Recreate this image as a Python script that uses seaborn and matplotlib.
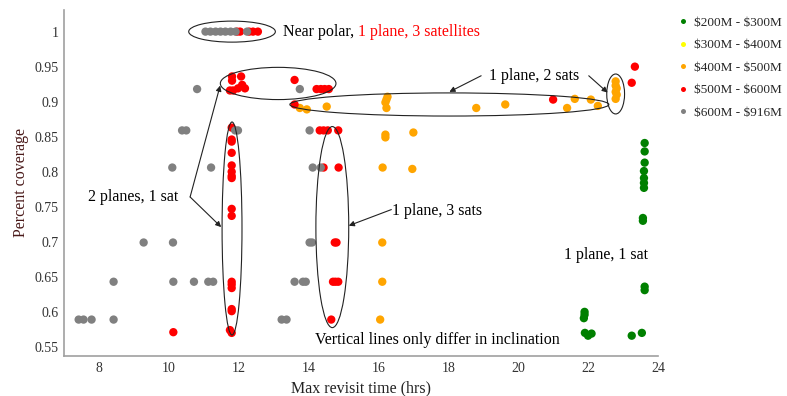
import numpy as np
import pandas as pd
import matplotlib
matplotlib.use("Agg")
import matplotlib.pyplot as plt
from matplotlib.patches import Ellipse
from matplotlib.ticker import FuncFormatter
import seaborn as sns

# Cost tiers (dollar signs escaped so matplotlib does not read them as mathtext)
tiers = [r"\$200M - \$300M", r"\$300M - \$400M", r"\$400M - \$500M",
         r"\$500M - \$600M", r"\$600M - \$916M"]
tier_colors = ["green", "yellow", "orange", "red", "gray"]

# $200M - $300M
t200_x = [23.62, 23.62, 23.62, 23.60, 23.60, 23.60, 23.60, 23.57, 23.57, 23.62, 23.62,
          21.90, 21.90, 21.88, 21.91, 22.00, 22.10, 23.25, 23.54]
t200_y = [0.841, 0.829, 0.813, 0.801, 0.791, 0.784, 0.777, 0.734, 0.730, 0.636, 0.631,
          0.600, 0.596, 0.591, 0.570, 0.566, 0.569, 0.566, 0.570]

# $300M - $400M (no designs in this range)
t300_x = []
t300_y = []

# $400M - $500M
t400_x = [13.75, 13.95, 14.52, 16.26, 16.23, 16.20, 16.23, 18.80, 19.63, 21.40, 21.62,
          22.08, 22.28, 22.79, 22.79, 22.82, 22.79, 22.82, 22.79,
          16.20, 16.20, 17.00, 16.12, 16.97, 16.11, 16.11, 16.05]
t400_y = [0.891, 0.889, 0.893, 0.907, 0.903, 0.899, 0.891, 0.891, 0.896, 0.891, 0.904,
          0.903, 0.894, 0.929, 0.923, 0.919, 0.914, 0.910, 0.904,
          0.853, 0.849, 0.856, 0.806, 0.804, 0.699, 0.643, 0.589]

# $500M - $600M
t500_x = [11.95, 12.04, 12.30, 12.41, 12.55,
          11.81, 12.07, 11.81, 12.10, 11.98, 12.18, 11.84, 11.75,
          13.60, 14.23, 14.35, 14.46, 14.58, 13.60, 21.00, 23.34, 23.25,
          11.80, 11.80, 11.80, 11.80, 11.80, 11.80, 11.80, 11.80, 11.80, 11.80,
          11.80, 11.80, 11.80, 11.80, 11.80, 11.75, 11.80,
          14.32, 14.43, 14.55, 14.85, 14.43, 14.86, 14.75, 14.80,
          14.70, 14.77, 14.85, 14.65, 10.13]
t500_y = [1.0, 1.0, 1.0, 1.0, 1.0,
          0.936, 0.936, 0.930, 0.924, 0.919, 0.919, 0.916, 0.916,
          0.931, 0.918, 0.918, 0.918, 0.918, 0.896, 0.903, 0.950, 0.927,
          0.863, 0.846, 0.843, 0.827, 0.809, 0.800, 0.794, 0.791, 0.747, 0.737,
          0.643, 0.639, 0.634, 0.604, 0.601, 0.574, 0.570,
          0.859, 0.859, 0.859, 0.859, 0.806, 0.806, 0.699, 0.699,
          0.643, 0.643, 0.643, 0.589, 0.571]

# $600M - $916M
t600_x = [11.05, 11.19, 11.34, 11.48, 11.62, 11.77, 11.91, 12.24,
          10.81, 13.75,
          10.38, 10.50, 11.90, 11.98, 14.03,
          10.10, 11.21, 14.12, 14.35,
          9.28, 10.12, 14.03, 14.10,
          8.42, 10.13, 10.72, 11.13, 11.27, 13.60, 13.84, 13.92,
          7.42, 7.56, 7.79, 8.42, 13.23, 13.37]
t600_y = [1.0, 1.0, 1.0, 1.0, 1.0, 1.0, 1.0, 1.0,
          0.918, 0.918,
          0.859, 0.859, 0.859, 0.859, 0.859,
          0.806, 0.806, 0.806, 0.806,
          0.699, 0.699, 0.699, 0.699,
          0.643, 0.643, 0.643, 0.643, 0.643, 0.643, 0.643, 0.643,
          0.589, 0.589, 0.589, 0.589, 0.589, 0.589]

xs = [t200_x, t300_x, t400_x, t500_x, t600_x]
ys = [t200_y, t300_y, t400_y, t500_y, t600_y]
frames = []
for tier, x, y in zip(tiers, xs, ys):
    frames.append(pd.DataFrame({"revisit": x, "coverage": y, "cost": tier}))
df = pd.concat(frames, ignore_index=True)

sns.set_style("white")
plt.rcParams["font.family"] = ["Liberation Serif", "DejaVu Serif"]

fig, ax = plt.subplots(figsize=(7.87, 3.96), dpi=100)
fig.subplots_adjust(left=0.0813, right=0.836, bottom=0.101, top=0.975)

sns.scatterplot(data=df, x="revisit", y="coverage", hue="cost", hue_order=tiers,
                palette=tier_colors, s=36, linewidth=0, ax=ax)

ax.set_xlim(7.0, 24.0)
ax.set_ylim(0.537, 1.031)
ax.set_xticks(np.arange(8, 25, 2))
ax.set_yticks(np.arange(0.55, 1.001, 0.05))
ax.yaxis.set_major_formatter(FuncFormatter(lambda v, p: f"{v:g}"))
ax.tick_params(length=0, labelsize=10, colors="#333333", pad=4)
ax.set_xlabel("Max revisit time (hrs)", fontsize=11.5, color="#222222")
ax.set_ylabel("Percent coverage", fontsize=11.5, color="#4a1a1a")
sns.despine(ax=ax)
for side in ["left", "bottom"]:
    ax.spines[side].set_color("#a0a0a0")
    ax.spines[side].set_linewidth(1.2)

sns.move_legend(ax, "upper left", bbox_to_anchor=(0.846, 0.988),
                bbox_transform=fig.transFigure, frameon=False, title=None,
                fontsize=9.5, markerscale=0.6, handlelength=0.8,
                handletextpad=0.45, labelspacing=0.78)

# ellipses around groups of designs
ell_kw = dict(fill=False, edgecolor="#222222", linewidth=0.8)
ax.add_patch(Ellipse((11.81, 1.0), 2.48, 0.030, **ell_kw))
ax.add_patch(Ellipse((13.13, 0.926), 3.31, 0.046, **ell_kw))
ax.add_patch(Ellipse((18.03, 0.896), 9.13, 0.033, **ell_kw))
ax.add_patch(Ellipse((22.79, 0.911), 0.51, 0.057, **ell_kw))
ax.add_patch(Ellipse((11.81, 0.719), 0.57, 0.304, **ell_kw))
ax.add_patch(Ellipse((14.68, 0.721), 0.94, 0.287, **ell_kw))

# annotations
txt = dict(fontsize=11.5, color="black")
t1 = ax.text(13.27, 1.0, "Near polar, ", ha="left", va="center", **txt)
ax.annotate("1 plane, 3 satellites", xy=(1, 0), xycoords=t1, ha="left", va="bottom",
            fontsize=11.5, color="red")
ax.text(20.45, 0.937, "1 plane, 2 sats", ha="center", va="center", **txt)
ax.text(8.98, 0.764, "2 planes, 1 sat", ha="center", va="center", **txt)
ax.text(17.69, 0.744, "1 plane, 3 sats", ha="center", va="center", **txt)
ax.text(22.51, 0.681, "1 plane, 1 sat", ha="center", va="center", **txt)
ax.text(17.69, 0.560, "Vertical lines only differ in inclination", ha="center",
        va="center", **txt)

arrow = dict(arrowstyle="-|>", color="#222222", lw=0.8, mutation_scale=8,
             shrinkA=0, shrinkB=0)
ax.annotate("", xy=(18.03, 0.914), xytext=(18.94, 0.937), arrowprops=arrow)
ax.annotate("", xy=(22.56, 0.913), xytext=(22.02, 0.937), arrowprops=arrow)
ax.annotate("", xy=(11.47, 0.923), xytext=(10.61, 0.764), arrowprops=arrow)
ax.annotate("", xy=(11.50, 0.721), xytext=(10.61, 0.764), arrowprops=arrow)
ax.annotate("", xy=(15.15, 0.723), xytext=(16.37, 0.746), arrowprops=arrow)

fig.savefig("out.png", dpi=100)
